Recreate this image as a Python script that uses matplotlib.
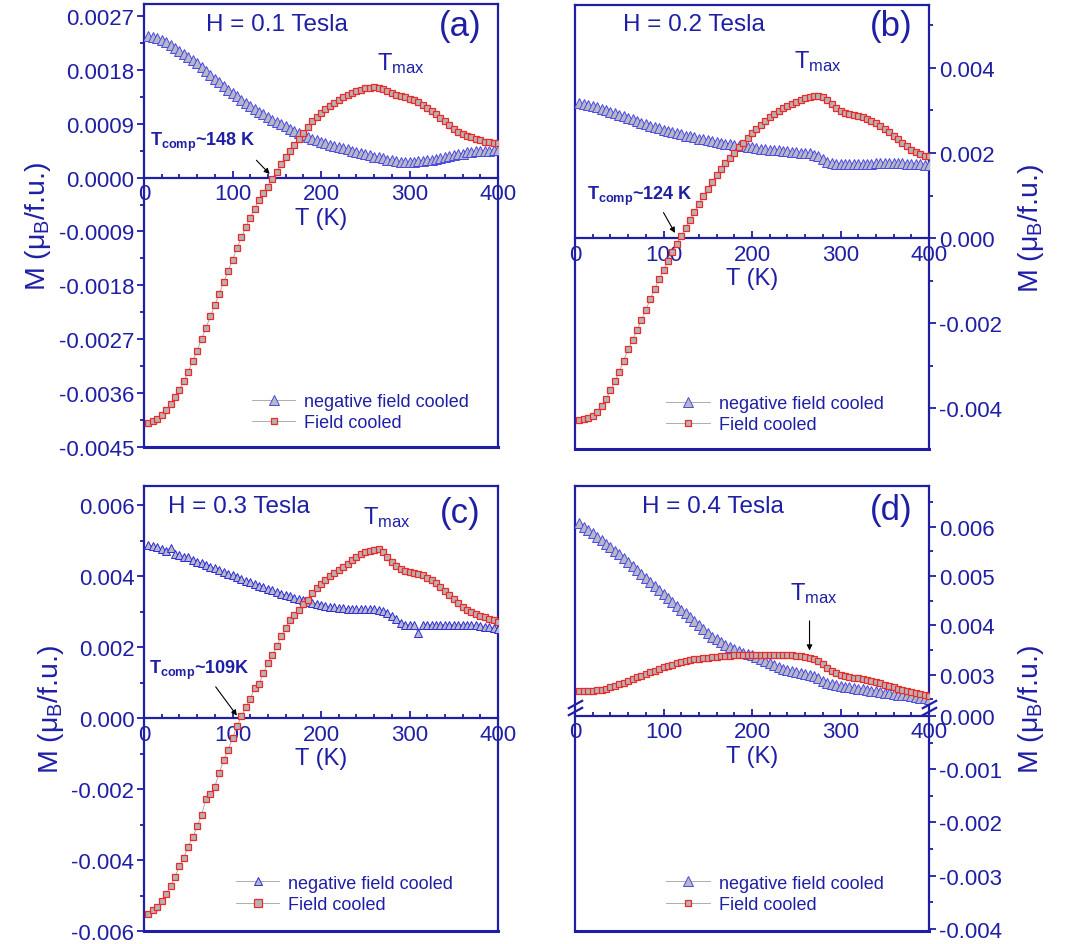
import numpy as np
import matplotlib.pyplot as plt
from matplotlib.ticker import FixedLocator, FormatStrFormatter

plt.rcParams['font.family'] = ['Liberation Sans', 'DejaVu Sans']
plt.rcParams['mathtext.fontset'] = 'custom'
plt.rcParams['mathtext.rm'] = 'Liberation Sans'
plt.rcParams['mathtext.it'] = 'Liberation Sans:italic'
plt.rcParams['mathtext.bf'] = 'Liberation Sans:bold'
plt.rcParams['axes.unicode_minus'] = False

# temperature grid (K)
temp = np.arange(5, 401, 5)

# magnetisation in units of 1e-3 muB/f.u.
nfc_a = [2.37, 2.35, 2.33, 2.30, 2.26, 2.22, 2.17, 2.12, 2.07, 2.02,
         1.97, 1.91, 1.85, 1.78, 1.72, 1.65, 1.59, 1.53, 1.47, 1.41,
         1.36, 1.30, 1.25, 1.19, 1.14, 1.10, 1.06, 1.01, 0.97, 0.93,
         0.89, 0.86, 0.82, 0.78, 0.75, 0.71, 0.68, 0.65, 0.62, 0.59,
         0.57, 0.55, 0.53, 0.51, 0.49, 0.47, 0.45, 0.43, 0.41, 0.39,
         0.37, 0.35, 0.34, 0.32, 0.30, 0.29, 0.27, 0.26, 0.26, 0.26,
         0.26, 0.27, 0.28, 0.29, 0.30, 0.31, 0.33, 0.34, 0.36, 0.37,
         0.39, 0.40, 0.42, 0.43, 0.44, 0.44, 0.45, 0.45, 0.46, 0.46]
fc_a = [-4.10, -4.07, -4.03, -3.97, -3.89, -3.79, -3.67, -3.54, -3.40, -3.24,
        -3.07, -2.89, -2.70, -2.51, -2.32, -2.13, -1.94, -1.75, -1.56, -1.37,
        -1.18, -1.00, -0.83, -0.67, -0.52, -0.38, -0.25, -0.15, -0.03, 0.10,
        0.23, 0.34, 0.45, 0.55, 0.65, 0.75, 0.85, 0.94, 1.01, 1.08,
        1.14, 1.19, 1.24, 1.29, 1.34, 1.38, 1.42, 1.45, 1.47, 1.49,
        1.50, 1.51, 1.50, 1.48, 1.45, 1.41, 1.38, 1.36, 1.34, 1.32,
        1.29, 1.26, 1.22, 1.17, 1.12, 1.06, 1.00, 0.94, 0.88, 0.82,
        0.77, 0.73, 0.70, 0.67, 0.64, 0.62, 0.60, 0.59, 0.58, 0.57]

nfc_b = [3.17, 3.15, 3.13, 3.10, 3.07, 3.04, 3.01, 2.97, 2.94, 2.90,
         2.86, 2.82, 2.79, 2.75, 2.71, 2.68, 2.64, 2.61, 2.58, 2.55,
         2.52, 2.49, 2.47, 2.44, 2.41, 2.39, 2.37, 2.34, 2.32, 2.30,
         2.28, 2.26, 2.24, 2.22, 2.21, 2.19, 2.17, 2.16, 2.14, 2.13,
         2.12, 2.10, 2.09, 2.08, 2.07, 2.06, 2.05, 2.04, 2.03, 2.02,
         2.01, 2.00, 1.99, 1.96, 1.92, 1.86, 1.80, 1.76, 1.74, 1.73,
         1.73, 1.73, 1.73, 1.74, 1.74, 1.75, 1.75, 1.76, 1.76, 1.77,
         1.77, 1.77, 1.77, 1.76, 1.75, 1.74, 1.73, 1.73, 1.72, 1.72]
fc_b = [-4.27, -4.26, -4.24, -4.19, -4.10, -3.96, -3.79, -3.58, -3.37, -3.14,
        -2.88, -2.62, -2.40, -2.17, -1.93, -1.69, -1.44, -1.20, -0.97, -0.75,
        -0.54, -0.33, -0.13, 0.05, 0.23, 0.42, 0.61, 0.80, 0.98, 1.15,
        1.32, 1.48, 1.62, 1.76, 1.89, 2.01, 2.13, 2.24, 2.35, 2.46,
        2.57, 2.67, 2.76, 2.84, 2.92, 2.99, 3.05, 3.11, 3.16, 3.21,
        3.25, 3.29, 3.32, 3.34, 3.34, 3.31, 3.24, 3.15, 3.06, 2.99,
        2.95, 2.92, 2.90, 2.88, 2.85, 2.81, 2.76, 2.70, 2.64, 2.57,
        2.49, 2.40, 2.32, 2.24, 2.16, 2.08, 2.02, 1.98, 1.94, 1.92]

nfc_c = [4.88, 4.85, 4.81, 4.77, 4.72, 4.80, 4.63, 4.59, 4.55, 4.53,
         4.46, 4.41, 4.37, 4.32, 4.27, 4.22, 4.17, 4.12, 4.07, 4.02,
         3.97, 3.92, 3.87, 3.83, 3.78, 3.73, 3.69, 3.64, 3.60, 3.55,
         3.51, 3.47, 3.43, 3.39, 3.35, 3.32, 3.28, 3.25, 3.22, 3.19,
         3.16, 3.14, 3.12, 3.10, 3.09, 3.08, 3.07, 3.06, 3.06, 3.06,
         3.06, 3.06, 3.05, 3.02, 2.96, 2.88, 2.78, 2.68, 2.63, 2.63,
         2.63, 2.39, 2.63, 2.63, 2.63, 2.63, 2.63, 2.63, 2.63, 2.63,
         2.63, 2.63, 2.63, 2.62, 2.61, 2.60, 2.58, 2.56, 2.54, 2.52]
fc_c = [-5.52, -5.42, -5.31, -5.15, -4.97, -4.74, -4.47, -4.18, -3.93, -3.62,
        -3.36, -3.05, -2.74, -2.28, -2.13, -1.93, -1.55, -1.18, -0.90, -0.57,
        -0.23, 0.05, 0.30, 0.53, 0.85, 0.96, 1.27, 1.55, 1.78, 2.03,
        2.30, 2.55, 2.75, 2.90, 3.05, 3.22, 3.33, 3.52, 3.66, 3.79,
        3.89, 3.99, 4.09, 4.17, 4.26, 4.34, 4.45, 4.55, 4.63, 4.68,
        4.71, 4.73, 4.76, 4.68, 4.53, 4.40, 4.29, 4.21, 4.15, 4.13,
        4.10, 4.06, 4.02, 3.95, 3.88, 3.80, 3.70, 3.58, 3.46, 3.35,
        3.24, 3.14, 3.05, 2.98, 2.92, 2.88, 2.84, 2.80, 2.76, 2.72]

nfc_d = [6.07, 6.00, 5.93, 5.86, 5.79, 5.72, 5.65, 5.58, 5.51, 5.44,
         5.36, 5.28, 5.20, 5.12, 5.04, 4.96, 4.88, 4.80, 4.72, 4.64,
         4.56, 4.48, 4.40, 4.32, 4.24, 4.16, 4.08, 4.00, 3.92, 3.84,
         3.76, 3.72, 3.66, 3.61, 3.56, 3.52, 3.48, 3.45, 3.42, 3.39,
         3.36, 3.32, 3.28, 3.23, 3.19, 3.15, 3.12, 3.09, 3.07, 3.05,
         3.03, 3.01, 3.00, 2.97, 2.93, 2.88, 2.84, 2.81, 2.79, 2.78,
         2.76, 2.75, 2.73, 2.72, 2.71, 2.69, 2.68, 2.67, 2.65, 2.64,
         2.63, 2.62, 2.60, 2.59, 2.58, 2.56, 2.55, 2.53, 2.52, 2.50]
fc_d = [2.68, 2.68, 2.68, 2.68, 2.69, 2.70, 2.72, 2.75, 2.78, 2.81,
        2.84, 2.88, 2.91, 2.95, 2.98, 3.02, 3.05, 3.08, 3.12, 3.15,
        3.18, 3.20, 3.23, 3.25, 3.27, 3.29, 3.31, 3.32, 3.33, 3.34,
        3.35, 3.36, 3.37, 3.38, 3.38, 3.39, 3.39, 3.40, 3.40, 3.40,
        3.40, 3.40, 3.40, 3.40, 3.40, 3.40, 3.40, 3.40, 3.39, 3.38,
        3.37, 3.35, 3.33, 3.31, 3.27, 3.21, 3.14, 3.08, 3.03, 3.00,
        2.98, 2.96, 2.94, 2.93, 2.91, 2.89, 2.87, 2.85, 2.83, 2.80,
        2.77, 2.75, 2.72, 2.70, 2.67, 2.65, 2.63, 2.61, 2.59, 2.57]

fields = ['H = 0.1 Tesla', 'H = 0.2 Tesla', 'H = 0.3 Tesla', 'H = 0.4 Tesla']
tags = ['(a)', '(b)', '(c)', '(d)']
tcomp = ['148 K', '124 K', '109K']

blue = '#1f1fa6'
nfc_edge = '#4848e8'
nfc_face = '#b8b8c4'
fc_edge = '#f02828'
fc_face = '#b4b4b4'

# broken y axis for panel (d)
yb, fb, kk = 0.00235, 0.00017, 0.928


def fwd(y):
    y = np.asarray(y, dtype=float)
    return np.where(y <= 0, y, np.where(y < yb, y * fb / yb, fb + (y - yb) * kk))


def inv(f):
    f = np.asarray(f, dtype=float)
    return np.where(f <= 0, f, np.where(f < fb, f * yb / fb, yb + (f - fb) / kk))


fig = plt.figure(figsize=(10.7, 9.45), dpi=100)
W, H = 1070, 945


def make_ax(x0, y0, x1, y1):
    return fig.add_axes([x0 / W, 1 - y1 / H, (x1 - x0) / W, (y1 - y0) / H])


def style(ax, side, majors, minors, fmt, ylim):
    ax.set_xlim(0, 400)
    ax.set_ylim(*ylim)
    for s in ax.spines.values():
        s.set_color(blue)
        s.set_linewidth(1.6)
    ax.spines['bottom'].set_position(('data', 0))
    # frame line at the bottom of the box
    ax.plot([0, 1], [0, 0], transform=ax.transAxes, color=blue, lw=2.2,
            clip_on=False, zorder=5)
    ax.xaxis.set_major_locator(FixedLocator([0, 100, 200, 300, 400]))
    ax.xaxis.set_minor_locator(FixedLocator(np.arange(20, 400, 20)))
    ax.tick_params(axis='x', which='both', direction='in', colors=blue,
                   labelsize=16, top=False, pad=4)
    ax.tick_params(axis='x', which='major', length=5, width=1.3)
    ax.tick_params(axis='x', which='minor', length=3, width=1.3)
    ax.yaxis.set_major_locator(FixedLocator(majors))
    ax.yaxis.set_minor_locator(FixedLocator(minors))
    ax.yaxis.set_major_formatter(FormatStrFormatter(fmt))
    if side == 'right':
        ax.yaxis.tick_right()
        ax.yaxis.set_label_position('right')
        ax.tick_params(axis='y', which='both', left=False, right=True)
    else:
        ax.tick_params(axis='y', which='both', left=True, right=False)
    ax.tick_params(axis='y', which='both', direction='out', colors=blue,
                   labelsize=16, pad=2)
    ax.tick_params(axis='y', which='major', length=5, width=1.3)
    ax.tick_params(axis='y', which='minor', length=3, width=1.3)
    ax.set_xlabel('T (K)', color=blue, fontsize=17, labelpad=2)
    ax.set_ylabel('M (μ$_\\mathregular{B}$/f.u.)', color=blue, fontsize=20.5,
                  labelpad=4 if side == 'left' else 10,
                  rotation=90)


def curves(ax, nfc, fc, ms_t, ms_s, tri_edge=nfc_edge):
    ax.plot(temp, np.array(nfc) * 1e-3, color='#a0a0a0', lw=0.6, marker='^',
            ms=ms_t, mfc=nfc_face, mec=tri_edge, mew=0.7,
            label='negative field cooled', zorder=3)
    ax.plot(temp, np.array(fc) * 1e-3, color='#a0a0a0', lw=0.6, marker='s',
            ms=ms_s, mfc=fc_face, mec=fc_edge, mew=0.9,
            label='Field cooled', zorder=4)


def legend(ax, x, y):
    ax.legend(loc='lower left', bbox_to_anchor=(x, y), frameon=False,
              fontsize=13, labelcolor=blue, handlelength=2.4,
              handletextpad=0.5, labelspacing=0.25, borderaxespad=0,
              borderpad=0, markerscale=1.05)


def tmax(ax, x, y):
    ax.text(x, y, 'T$_\\mathregular{max}$', color=blue, fontsize=17,
            va='baseline', ha='left', zorder=6)


def tcomp_label(ax, x, y, txt, xy, xytext):
    ax.text(x, y, '$\\mathbf{T_{comp}}$~' + txt, color=blue, fontsize=13,
            fontweight='bold', va='baseline', ha='left', zorder=6)
    ax.annotate('', xy=xy, xytext=xytext,
                arrowprops=dict(arrowstyle='-|>', color='k', lw=0.8,
                                mutation_scale=8, shrinkA=0, shrinkB=0),
                zorder=6)


# (a)
ax = make_ax(144, 5, 498, 448)
curves(ax, nfc_a, fc_a, 6.5, 4.3)
style(ax, 'left', [-0.0045, -0.0036, -0.0027, -0.0018, -0.0009, 0.0, 0.0009, 0.0018, 0.0027],
      [-0.00405, -0.00315, -0.00225, -0.00135, -0.00045, 0.00045, 0.00135, 0.00225],
      '%.4f', (-0.0045, 0.0029))
ax.text(150, 0.00257, fields[0], color=blue, fontsize=17.5, ha='center', va='center')
ax.text(357, 0.00254, tags[0], color=blue, fontsize=25, ha='center', va='center')
tmax(ax, 263, 0.00182)
tcomp_label(ax, 7, 0.00054, tcomp[0], (142, 0.00006), (127, 0.00029))
legend(ax, 0.305, 0.035)

# (b)
ax = make_ax(575, 6, 929, 450)
curves(ax, nfc_b, fc_b, 6.5, 4.7)
style(ax, 'right', [-0.004, -0.002, 0.0, 0.002, 0.004],
      [-0.005, -0.003, -0.001, 0.001, 0.003, 0.005], '%.3f', (-0.00496, 0.00548))
ax.text(134, 0.00503, fields[1], color=blue, fontsize=17.5, ha='center', va='center')
ax.text(357, 0.00499, tags[1], color=blue, fontsize=25, ha='center', va='center')
tmax(ax, 247, 0.00401)
tcomp_label(ax, 14, 0.00091, tcomp[1], (113, 0.00012), (100, 0.0006))
legend(ax, 0.258, 0.035)

# (c)
ax = make_ax(144, 487, 498, 932)
curves(ax, nfc_c, fc_c, 5.5, 5.0, tri_edge='#2a2ae0')
style(ax, 'left', [-0.006, -0.004, -0.002, 0.0, 0.002, 0.004, 0.006],
      [-0.005, -0.003, -0.001, 0.001, 0.003, 0.005], '%.3f', (-0.006, 0.00654))
ax.text(107, 0.00597, fields[2], color=blue, fontsize=17.5, ha='center', va='center')
ax.text(357, 0.00578, tags[2], color=blue, fontsize=25, ha='center', va='center')
tmax(ax, 247, 0.0055)
tcomp_label(ax, 6, 0.00126, tcomp[2], (105, 0.00007), (81, 0.00088))
legend(ax, 0.26, 0.04)

# (d)
ax = make_ax(575, 487, 929, 932)
ax.set_yscale('function', functions=(fwd, inv))
curves(ax, nfc_d, fc_d, 6.5, 4.3)
style(ax, 'right', [-0.004, -0.003, -0.002, -0.001, 0.0, 0.003, 0.004, 0.005, 0.006],
      [-0.0035, -0.0025, -0.0015, -0.0005, 0.0025, 0.0035, 0.0045, 0.0055, 0.0065],
      '%.3f', (-0.00404, 0.00682))
ax.text(156, 0.00642, fields[3], color=blue, fontsize=17.5, ha='center', va='center')
ax.text(357, 0.00635, tags[3], color=blue, fontsize=25, ha='center', va='center')
tmax(ax, 243, 0.00454)
ax.annotate('', xy=(265, 0.00349), xytext=(265, 0.00409),
            arrowprops=dict(arrowstyle='-|>', color='k', lw=0.8,
                            mutation_scale=8, shrinkA=0, shrinkB=0))
legend(ax, 0.258, 0.04)
# axis break marks
for xb in (0, 1):
    ax.plot([xb, xb], [0.494, 0.509], transform=ax.transAxes, ls='none',
            marker=[(-1, -0.55), (1, 0.55)], ms=11, mec=blue, mew=1.6,
            clip_on=False, zorder=6)

fig.savefig('out.png', dpi=100)
